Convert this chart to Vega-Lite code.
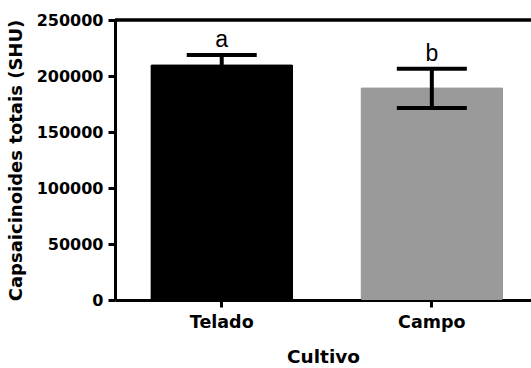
{
  "$schema": "https://vega.github.io/schema/vega-lite/v6.json",
  "autosize": {"type": "none"},
  "padding": {"left": 115, "top": 20, "right": 0, "bottom": 68},
  "width": 416,
  "height": 280,
  "background": "white",
  "config": {
    "view": {"stroke": null},
    "axis": {
      "domainColor": "#000",
      "domainWidth": 3,
      "tickColor": "#000",
      "tickWidth": 3,
      "tickSize": 7,
      "labelColor": "#000",
      "titleColor": "#000",
      "labelFont": "DejaVu Sans",
      "titleFont": "DejaVu Sans",
      "labelFontWeight": "bold",
      "titleFontWeight": "bold",
      "grid": false
    }
  },
  "data": {
    "values": [
      {"Cultivo": "Telado", "SHU": 210500, "lo": 202000, "hi": 218700, "grupo": "a"},
      {"Cultivo": "Campo", "SHU": 190000, "lo": 171500, "hi": 206500, "grupo": "b"}
    ]
  },
  "layer": [
    {
      "mark": {"type": "bar", "cornerRadius": 2},
      "encoding": {
        "x": {
          "field": "Cultivo",
          "type": "nominal",
          "sort": ["Telado", "Campo"],
          "scale": {"paddingInner": 0.32, "paddingOuter": 0.15, "align": 0.56},
          "axis": {"labelAngle": 0, "labelFontSize": 17.5, "labelPadding": 6, "titleFontSize": 18.5, "titlePadding": 17, "title": "Cultivo"}
        },
        "y": {
          "field": "SHU",
          "type": "quantitative",
          "scale": {"domain": [0, 250000], "nice": false},
          "axis": {"values": [0, 50000, 100000, 150000, 200000, 250000], "format": "d", "labelFontSize": 16, "labelPadding": 5, "titleFontSize": 18, "titlePadding": 11, "title": "Capsaicinoides totais (SHU)"}
        },
        "color": {
          "field": "Cultivo",
          "type": "nominal",
          "scale": {"domain": ["Telado", "Campo"], "range": ["#000000", "#9a9a9a"]},
          "legend": null
        }
      }
    },
    {
      "mark": {"type": "rule", "color": "#000", "strokeWidth": 4},
      "encoding": {
        "x": {"field": "Cultivo", "type": "nominal", "sort": ["Telado", "Campo"]},
        "y": {"field": "lo", "type": "quantitative"},
        "y2": {"field": "hi"}
      }
    },
    {
      "mark": {"type": "tick", "color": "#000", "opacity": 1, "thickness": 4, "size": 70},
      "encoding": {
        "x": {"field": "Cultivo", "type": "nominal", "sort": ["Telado", "Campo"]},
        "y": {"field": "hi", "type": "quantitative"}
      }
    },
    {
      "mark": {"type": "tick", "color": "#000", "opacity": 1, "thickness": 4, "size": 70},
      "encoding": {
        "x": {"field": "Cultivo", "type": "nominal", "sort": ["Telado", "Campo"]},
        "y": {"field": "lo", "type": "quantitative"}
      }
    },
    {
      "mark": {"type": "text", "font": "Liberation Sans", "fontSize": 23, "baseline": "alphabetic", "dy": -8, "color": "#000"},
      "encoding": {
        "x": {"field": "Cultivo", "type": "nominal", "sort": ["Telado", "Campo"]},
        "y": {"field": "hi", "type": "quantitative"},
        "text": {"field": "grupo"}
      }
    },
    {
      "mark": {"type": "rule", "color": "#000", "strokeWidth": 3},
      "encoding": {"y": {"datum": 250000}}
    }
  ]
}
